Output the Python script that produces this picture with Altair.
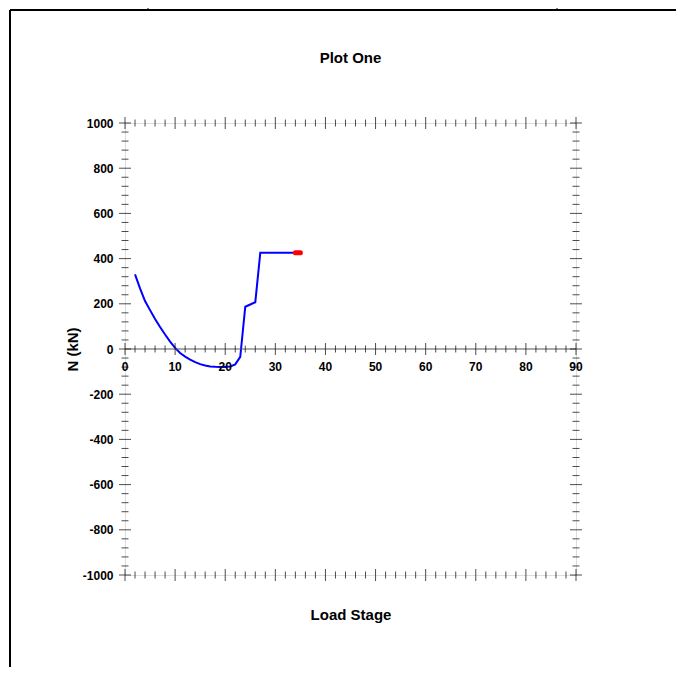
import altair as alt
import pandas as pd

# ---- data ----
stages = list(range(2, 36))
n_values = [330, 268, 212, 172, 133, 97, 64, 33, 5, -18, -34, -47, -58, -67,
            -73, -77, -79, -80, -80, -77, -68, -35, 187, 197, 207, 426,
            426, 426, 426, 426, 426, 426, 426, 426]
last_stages = [34, 35]
last_values = [426, 426]

x_major = list(range(0, 91, 10))
x_minor = [v for v in range(0, 91, 2) if v % 10 != 0]
y_major = list(range(-1000, 1001, 200))
y_minor = [v for v in range(-1000, 1001, 40) if v % 200 != 0]
x_tick_rows = [1000, 0, -1000]
y_tick_cols = [0, 90]
chart_title = "Plot One"

FONT = "Liberation Sans"
LINE = "#555555"

df = pd.DataFrame({"stage": stages, "N": n_values})
df_last = pd.DataFrame({"stage": last_stages, "N": last_values})

def vticks(vals):
    return pd.DataFrame([{"stage": s, "N": r} for s in vals for r in x_tick_rows])

def hticks(vals):
    return pd.DataFrame([{"stage": c, "N": n} for n in vals for c in y_tick_cols])

xscale = alt.Scale(domain=[0, 90], nice=False, zero=False)
yscale = alt.Scale(domain=[-1000, 1000], nice=False, zero=False)

line = alt.Chart(df).mark_line(color="#0000ff", strokeWidth=2).encode(
    x=alt.X("stage:Q", scale=xscale,
            axis=alt.Axis(title="Load Stage", labels=False, ticks=False, domain=False,
                          grid=False, titleFont=FONT, titleFontSize=15,
                          titleFontWeight="bold", titleColor="#000", titlePadding=32)),
    y=alt.Y("N:Q", scale=yscale,
            axis=alt.Axis(title="N (kN)", values=y_major, ticks=False, tickSize=0,
                          domain=False, grid=False, labelPadding=12,
                          labelExpr="'' + datum.value",
                          labelFont=FONT, labelFontSize=12, labelFontWeight="bold",
                          labelColor="#000", titleFont=FONT, titleFontSize=15,
                          titleFontWeight="bold", titleColor="#000", titlePadding=2)),
    order="stage:Q",
)

last = alt.Chart(df_last).mark_line(color="#ff0000", strokeWidth=5, strokeCap="round").encode(
    x="stage:Q", y="N:Q")

zero_line = alt.Chart(pd.DataFrame({"N": [0]})).mark_rule(color=LINE, strokeWidth=1).encode(
    y="N:Q")

vmaj = alt.Chart(vticks(x_major)).mark_tick(orient="vertical", size=12, thickness=1,
                                            color="#000").encode(x="stage:Q", y="N:Q")
vmin = alt.Chart(vticks(x_minor)).mark_tick(orient="vertical", size=7, thickness=1,
                                            color="#000").encode(x="stage:Q", y="N:Q")
hmaj = alt.Chart(hticks(y_major)).mark_tick(orient="horizontal", size=12, thickness=1,
                                            color="#000").encode(x="stage:Q", y="N:Q")
hmin = alt.Chart(hticks(y_minor)).mark_tick(orient="horizontal", size=7, thickness=1,
                                            color="#000").encode(x="stage:Q", y="N:Q")

xlab_df = pd.DataFrame({"stage": x_major, "N": [0] * len(x_major),
                        "lab": [str(v) for v in x_major]})
xlabels = alt.Chart(xlab_df).mark_text(font=FONT, fontSize=12, fontWeight="bold",
                                       color="#000", baseline="middle", dy=18).encode(
    x="stage:Q", y="N:Q", text="lab:N")

title_df = pd.DataFrame({"stage": [45], "N": [1000], "lab": [chart_title]})
title_mark = alt.Chart(title_df).mark_text(font=FONT, fontSize=15, fontWeight="bold",
                                           color="#000", baseline="middle", dy=-65).encode(
    x="stage:Q", y="N:Q", text="lab:N")

one = pd.DataFrame({"k": [0]})
frame_top = alt.Chart(one).mark_rule(color="#000", strokeWidth=2).encode(
    x=alt.value(-115), x2=alt.value(600), y=alt.value(-113))
frame_left = alt.Chart(one).mark_rule(color="#000", strokeWidth=2).encode(
    x=alt.value(-115), y=alt.value(-113), y2=alt.value(600))
frame_t1 = alt.Chart(one).mark_rule(color="#000", strokeWidth=1).encode(
    x=alt.value(23), y=alt.value(-117), y2=alt.value(-113))
frame_t2 = alt.Chart(one).mark_rule(color="#000", strokeWidth=1).encode(
    x=alt.value(432), y=alt.value(-117), y2=alt.value(-113))

chart = alt.layer(
    line, zero_line, vmin, vmaj, hmin, hmaj, xlabels, last, title_mark,
    frame_top, frame_left, frame_t1, frame_t2,
).properties(
    width=451, height=452,
    autosize=alt.AutoSizeParams(type="none"),
    padding={"left": 117, "top": 115, "right": 100, "bottom": 92},
).configure_view(stroke=LINE, strokeWidth=1).configure(background="white")

chart.save("out.html", embed_options={"renderer": "svg", "actions": False})
